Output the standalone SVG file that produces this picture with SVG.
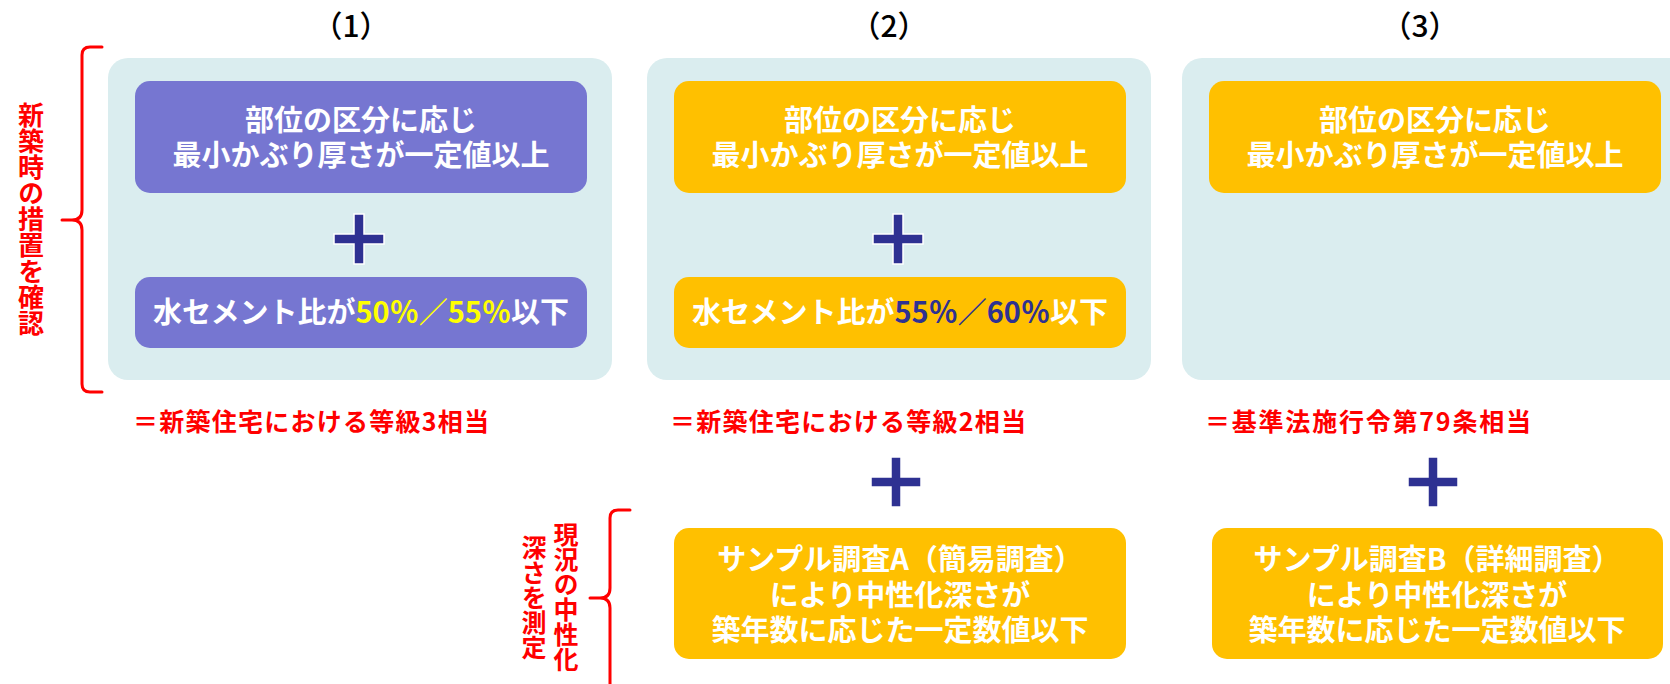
<svg xmlns="http://www.w3.org/2000/svg" width="1670" height="684" viewBox="0 0 1670 684">
<defs>
<style>
.panel{fill:#DAEDEF}
.purple{fill:#7676D1}
.orange{fill:#FFC000}
.bt{font-family:"Noto Sans CJK JP","Noto Sans",sans-serif;font-weight:bold;font-size:29px;fill:#FFFFFF;text-anchor:middle}
.title{font-family:"Noto Sans CJK JP","Noto Sans",sans-serif;font-weight:500;font-size:30px;fill:#000000;text-anchor:middle}
.red{font-family:"Noto Sans CJK JP","Noto Sans",sans-serif;font-weight:bold;font-size:25px;fill:#FF0000}
.vred{font-family:"Noto Sans CJK JP","Noto Sans",sans-serif;font-weight:bold;fill:#FF0000;writing-mode:vertical-rl;text-anchor:middle}
.plus{fill:#2E3192;stroke:#FFFFFF;stroke-width:1.5}
.brace{fill:none;stroke:#FF0000;stroke-width:3;stroke-linejoin:round;stroke-linecap:round}
.yel{fill:#FFFF00}
.navy{fill:#2E3192}
</style>
<path id="plusShape" class="plus" d="M-5,-25 H5 V-5 H25 V5 H5 V25 H-5 V5 H-25 V-5 H-5 Z"/>
</defs>
<rect width="1670" height="684" fill="#FFFFFF"/>

<g id="titles">
<text class="title" x="351" y="37">（1）</text>
<text class="title" x="889" y="37">（2）</text>
<text class="title" x="1420" y="37">（3）</text>
</g>

<g id="panel1">
<rect class="panel" x="108" y="58" width="504" height="322" rx="20"/>
<g id="p1-cover">
<rect class="purple" x="135" y="81" width="452" height="112" rx="15"/>
<text class="bt" x="361" y="131">部位の区分に応じ<tspan x="361" dy="35">最小かぶり厚さが一定値以上</tspan></text>
</g>
<g id="p1-wc">
<rect class="purple" x="135" y="277" width="452" height="71" rx="15"/>
<text class="bt" x="361" y="323">水セメント比が<tspan class="yel">50％／55％</tspan>以下</text>
</g>
</g>

<g id="panel2">
<rect class="panel" x="647" y="58" width="504" height="322" rx="20"/>
<g id="p2-cover">
<rect class="orange" x="674" y="81" width="452" height="112" rx="15"/>
<text class="bt" x="900" y="131">部位の区分に応じ<tspan x="900" dy="35">最小かぶり厚さが一定値以上</tspan></text>
</g>
<g id="p2-wc">
<rect class="orange" x="674" y="277" width="452" height="71" rx="15"/>
<text class="bt" x="900" y="323">水セメント比が<tspan class="navy">55％／60％</tspan>以下</text>
</g>
</g>

<g id="panel3">
<rect class="panel" x="1182" y="58" width="540" height="322" rx="20"/>
<g id="p3-cover">
<rect class="orange" x="1209" y="81" width="452" height="112" rx="15"/>
<text class="bt" x="1435" y="131">部位の区分に応じ<tspan x="1435" dy="35">最小かぶり厚さが一定値以上</tspan></text>
</g>
</g>

<g id="labels">
<text class="red" x="133" y="431" textLength="356" lengthAdjust="spacing">＝新築住宅における等級3相当</text>
<text class="red" x="670" y="431" textLength="356" lengthAdjust="spacing">＝新築住宅における等級2相当</text>
<text class="red" x="1205" y="431" textLength="326" lengthAdjust="spacing">＝基準法施行令第79条相当</text>
</g>

<g id="surveyA">
<rect class="orange" x="674" y="528" width="452" height="131" rx="15"/>
<text class="bt" x="900" y="570">サンプル調査A（簡易調査）<tspan x="900" dy="35.5">により中性化深さが</tspan><tspan x="900" dy="35.5">築年数に応じた一定数値以下</tspan></text>
</g>

<g id="surveyB">
<rect class="orange" x="1212" y="528" width="451" height="131" rx="15"/>
<text class="bt" x="1437" y="570">サンプル調査B（詳細調査）<tspan x="1437" dy="35.5">により中性化深さが</tspan><tspan x="1437" dy="35.5">築年数に応じた一定数値以下</tspan></text>
</g>

<g id="side-labels">
<text class="vred" x="31" y="219" style="font-size:26px">新築時の措置を確認</text>
<text class="vred" x="566" y="597" style="font-size:25px">現況の中性化</text>
<text class="vred" x="534" y="597" style="font-size:25px">深さを測定</text>
</g>

<g id="connectors">
<use href="#plusShape" x="359" y="239"/>
<use href="#plusShape" x="898" y="239"/>
<use href="#plusShape" x="896" y="482"/>
<use href="#plusShape" x="1433" y="482"/>
<path class="brace" d="M102,47 H90 Q82,47 82,55 V210 Q82,220 72,220 H62 M72,220 Q82,220 82,230 V384 Q82,392 90,392 H102"/>
<path class="brace" d="M630,510 H618 Q610,510 610,518 V588 Q610,598 600,598 H590 M600,598 Q610,598 610,608 V690"/>
</g>
</svg>
